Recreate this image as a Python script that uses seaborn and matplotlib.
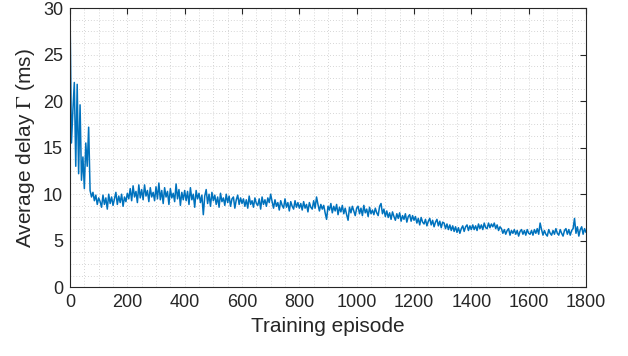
import numpy as np
import matplotlib
matplotlib.use('Agg')
import matplotlib.pyplot as plt
import seaborn as sns
from matplotlib.ticker import MultipleLocator

# Training curve (one value every 5 episodes)
episodes = np.arange(0, 1801, 5)

delay_0_100 = [29.5, 15.5, 19.0, 22.0, 13.0, 21.8, 12.2, 19.6, 11.5, 14.0, 10.6,
               15.5, 13.0, 17.2, 10.4, 9.7, 10.2, 9.3, 9.9, 8.9, 9.6]
delay_100_200 = [9.2, 8.6, 9.9, 8.9, 9.6, 8.4, 10.0, 9.0, 9.7, 8.8,
                 9.5, 10.2, 8.9, 9.8, 9.1, 10.0, 8.7, 9.7, 9.2, 10.1]
delay_200_300 = [9.5, 10.6, 9.3, 10.9, 9.7, 10.3, 9.1, 11.0, 9.6, 10.5,
                 9.4, 11.0, 9.8, 10.4, 9.2, 10.7, 9.7, 10.2, 9.3, 10.8]
delay_300_400 = [9.5, 11.2, 9.4, 10.4, 9.0, 10.7, 9.7, 10.3, 8.9, 10.6,
                 9.6, 10.1, 9.2, 11.1, 9.5, 10.5, 8.8, 10.2, 9.4, 10.4]
delay_400_500 = [9.3, 10.3, 8.9, 10.7, 9.4, 10.0, 8.6, 10.4, 9.5, 10.1,
                 9.1, 9.9, 7.8, 9.8, 10.5, 9.0, 10.0, 8.7, 10.2, 9.3]
delay_500_600 = [9.9, 8.9, 9.7, 8.6, 10.1, 9.2, 9.6, 8.8, 10.0, 9.1,
                 9.8, 8.7, 9.5, 9.7, 8.5, 9.4, 9.9, 8.9, 9.6, 9.0]
delay_600_700 = [9.5, 8.7, 9.4, 8.5, 9.8, 8.9, 9.3, 8.6, 9.6, 9.0,
                 8.8, 9.5, 8.4, 9.7, 8.9, 9.4, 8.7, 9.6, 9.1, 10.0]
delay_700_800 = [9.2, 8.5, 9.4, 8.7, 9.1, 8.3, 9.3, 8.8, 8.5, 9.5,
                 8.6, 9.1, 8.2, 9.2, 8.7, 8.4, 9.3, 8.6, 9.1, 8.5]
delay_800_900 = [9.0, 8.3, 9.2, 8.5, 8.9, 8.1, 9.1, 8.6, 8.4, 9.3,
                 8.5, 9.7, 8.9, 8.2, 8.9, 8.4, 8.8, 8.0, 7.3, 8.7]
delay_900_1000 = [8.3, 9.0, 8.0, 8.7, 8.2, 8.9, 7.8, 8.6, 8.1, 8.8,
                  7.9, 8.5, 7.8, 7.2, 8.6, 8.0, 8.7, 8.2, 7.7, 8.5]
delay_1000_1100 = [8.7, 7.9, 8.5, 7.7, 8.8, 8.0, 8.4, 7.6, 8.6, 7.9,
                   8.3, 7.8, 8.5, 8.0, 7.7, 8.7, 9.0, 7.9, 8.4, 7.6]
delay_1100_1200 = [8.2, 7.5, 8.0, 7.3, 8.1, 7.6, 7.2, 7.9, 7.4, 8.0,
                   7.1, 7.7, 7.3, 7.9, 7.0, 7.6, 7.8, 7.1, 7.7, 7.2]
delay_1200_1300 = [7.6, 6.9, 7.4, 6.7, 7.5, 7.0, 6.8, 7.3, 6.6, 7.1,
                   7.4, 6.7, 7.2, 6.5, 7.0, 7.3, 6.6, 7.1, 6.4, 7.0]
delay_1300_1400 = [6.9, 6.3, 6.8, 6.2, 6.7, 6.1, 6.6, 6.0, 6.5, 5.9,
                   6.4, 5.8, 6.3, 6.6, 6.0, 6.5, 6.7, 6.1, 6.6, 6.2]
delay_1400_1500 = [6.7, 6.2, 6.6, 6.1, 6.8, 6.3, 6.7, 6.2, 6.9, 6.4,
                   6.3, 6.9, 6.4, 6.8, 6.5, 6.9, 6.3, 6.7, 6.1, 6.5]
delay_1500_1600 = [6.3, 5.8, 6.2, 5.7, 6.1, 6.3, 5.6, 6.1, 5.8, 6.2,
                   5.7, 6.1, 5.5, 6.0, 6.2, 5.7, 6.1, 5.6, 6.2, 5.8]
delay_1600_1700 = [5.7, 6.1, 5.6, 6.2, 5.8, 6.3, 5.7, 6.9, 6.2, 5.6,
                   6.1, 5.7, 5.5, 6.2, 5.8, 5.6, 6.1, 5.7, 6.3, 5.8]
delay_1700_1800 = [5.6, 6.2, 5.8, 5.5, 6.1, 6.3, 5.7, 6.2, 5.6, 6.1,
                   6.3, 7.4, 5.8, 6.5, 5.5, 6.2, 6.5, 5.7, 6.3, 5.9]

delay = (delay_0_100 + delay_100_200 + delay_200_300 + delay_300_400 +
         delay_400_500 + delay_500_600 + delay_600_700 + delay_700_800 +
         delay_800_900 + delay_900_1000 + delay_1000_1100 + delay_1100_1200 +
         delay_1200_1300 + delay_1300_1400 + delay_1400_1500 +
         delay_1500_1600 + delay_1600_1700 + delay_1700_1800)

x_ticks = [0, 200, 400, 600, 800, 1000, 1200, 1400, 1600, 1800]
y_ticks = [0, 5, 10, 15, 20, 25, 30]

sns.set_theme(style='white')
plt.rcParams['font.family'] = ['Liberation Sans', 'DejaVu Sans']
plt.rcParams['mathtext.fontset'] = 'stix'

fig = plt.figure(figsize=(6.28, 3.56), dpi=100)
ax = fig.add_axes([0.1115, 0.193, 0.8216, 0.7845])

sns.lineplot(x=episodes, y=delay, ax=ax, color='#0072BD', linewidth=1.1,
             errorbar=None)

ax.set_xlim(0, 1800)
ax.set_ylim(0, 30)
ax.set_xticks(x_ticks)
ax.set_yticks(y_ticks)
ax.xaxis.set_minor_locator(MultipleLocator(50))
ax.yaxis.set_minor_locator(MultipleLocator(1.25))

# MATLAB style dotted grid, major + minor
ax.grid(which='both', color='#c8c8c8', linestyle=(0, (1, 2.5)), linewidth=0.6)
ax.set_axisbelow(True)

ax.tick_params(which='major', direction='in', length=4, width=0.8,
               top=True, right=True, labelsize=13, colors='#262626', pad=5)
ax.tick_params(which='minor', length=0)
for s in ax.spines.values():
    s.set_color('#262626')
    s.set_linewidth(0.8)

ax.set_xlabel('Training episode', fontsize=15, color='#262626')
ax.set_ylabel(r'Average delay $\Gamma$ (ms)', fontsize=15, color='#262626')

fig.savefig('out.png', dpi=100)
